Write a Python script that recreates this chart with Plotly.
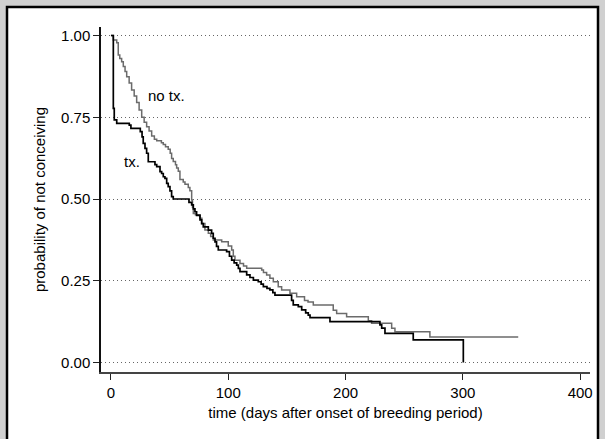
import plotly.graph_objects as go

# Kaplan-Meier step data (time in days, probability of not conceiving)
tx_time = [0, 2.0, 2.8, 4.9, 15.6, 17, 25, 26.5, 27.5, 29, 30.4, 31.8, 37.5, 39, 41.8, 43.2,
           44.6, 46, 47.5, 48.8, 50.3, 51.7, 53.1, 66.5, 68.8, 70.2, 71.6, 73, 75.9, 77.3,
           78.7, 83, 85.8, 87.2, 88.7, 90, 91.5, 98.6, 101, 102.9, 105, 107.2, 108.6, 110,
           115.7, 118.5, 121.4, 125.6, 128, 129.9, 133, 135.5, 138, 139.8, 154, 155.4,
           159.7, 162.6, 166, 168.2, 169.7, 186.7, 229.3, 230.8, 233.6, 257.7, 300.4]
tx_surv = [1.0, 0.777, 0.742, 0.731, 0.726, 0.716, 0.706, 0.69, 0.67, 0.655, 0.64, 0.614,
           0.605, 0.599, 0.584, 0.578, 0.568, 0.563, 0.548, 0.538, 0.525, 0.507, 0.500,
           0.49, 0.482, 0.47, 0.461, 0.45, 0.436, 0.425, 0.415, 0.405, 0.395, 0.38, 0.369,
           0.355, 0.344, 0.339, 0.325, 0.313, 0.305, 0.298, 0.288, 0.278, 0.268, 0.26,
           0.252, 0.247, 0.24, 0.232, 0.227, 0.222, 0.214, 0.206, 0.19, 0.176, 0.171,
           0.161, 0.152, 0.145, 0.137, 0.125, 0.115, 0.105, 0.089, 0.069, 0.0]

notx_time = [0, 2.0, 4.9, 6.2, 7.5, 9.1, 10.5, 12, 13.4, 15.5, 17.6, 19.8, 21.9, 24, 26.2,
             28.3, 30.4, 32.5, 34.7, 37, 39, 43, 44.6, 46.5, 48.8, 50.5, 51.7, 53.1, 55,
             56, 57.4, 58.8, 61.6, 63.1, 65.9, 67.3, 68.8, 69.5, 70.2, 72, 75.9, 77.5,
             80.1, 83, 85, 87.2, 94.4, 100, 102.9, 104.3, 105.7, 110, 113, 115.7, 128.5,
             130, 132.7, 135.5, 138.4, 142.6, 145.5, 152.6, 158.3, 165, 168, 172.5, 189.5,
             192.4, 200.9, 219.4, 222.2, 239.3, 242.1, 271.9, 347.2]
notx_surv = [1.0, 0.986, 0.978, 0.94, 0.93, 0.92, 0.905, 0.89, 0.874, 0.855, 0.833, 0.815,
             0.795, 0.772, 0.75, 0.735, 0.721, 0.708, 0.693, 0.683, 0.678, 0.672, 0.667,
             0.66, 0.652, 0.64, 0.624, 0.615, 0.605, 0.595, 0.585, 0.56, 0.552, 0.545,
             0.535, 0.525, 0.497, 0.475, 0.456, 0.452, 0.441, 0.425, 0.405, 0.395, 0.385,
             0.375, 0.369, 0.356, 0.344, 0.325, 0.313, 0.303, 0.295, 0.288, 0.283, 0.275,
             0.268, 0.258, 0.247, 0.232, 0.222, 0.212, 0.201, 0.19, 0.185, 0.176, 0.16,
             0.15, 0.14, 0.128, 0.12, 0.105, 0.094, 0.078, 0.078]

x_ticks = [0, 100, 200, 300, 400]
y_ticks = [0, 0.25, 0.5, 0.75, 1.0]
y_ticklabels = ["0.00", "0.25", "0.50", "0.75", "1.00"]

W, H = 605, 439
L, R, T, B = 101, 15, 27, 67
pw, ph = W - L - R, H - T - B

def px2paper_x(px):
    return (px - L) / pw

def px2paper_y(py):
    return (H - B - py) / ph

FONT = "Liberation Sans, Arial, sans-serif"

fig = go.Figure()
fig.add_trace(go.Scatter(x=notx_time, y=notx_surv, mode="lines", line_shape="hv",
                         line=dict(color="#6b6b6b", width=1.5), showlegend=False))
fig.add_trace(go.Scatter(x=tx_time, y=tx_surv, mode="lines", line_shape="hv",
                         line=dict(color="#000000", width=1.7), showlegend=False))

fig.add_annotation(x=29.8, y=0.818, text="no tx.", showarrow=False, xanchor="left",
                   yanchor="middle", font=dict(family=FONT, size=15, color="#000"))
fig.add_annotation(x=9.4, y=0.614, text="tx.", showarrow=False, xanchor="left",
                   yanchor="middle", font=dict(family=FONT, size=15, color="#000"))

# white panel with black border on gray background
fig.add_shape(type="rect", xref="paper", yref="paper", layer="below",
              x0=px2paper_x(7), x1=px2paper_x(598), y0=px2paper_y(460), y1=px2paper_y(7),
              fillcolor="white", line=dict(color="black", width=2.5))

fig.update_layout(
    width=W, height=H,
    margin=dict(l=L, r=R, t=T, b=B),
    paper_bgcolor="#d0d0d0",
    plot_bgcolor="white",
    font=dict(family=FONT, size=15, color="#000"),
    xaxis=dict(range=[-8.5, 408.4], tickvals=x_ticks, ticks="outside", ticklen=6,
               tickcolor="#222", showgrid=False, zeroline=False, showline=True,
               linecolor="#444", linewidth=1.5, tickfont=dict(size=15),
               title=dict(text="time (days after onset of breeding period)",
                          font=dict(size=15), standoff=8)),
    yaxis=dict(range=[-0.029, 1.026], tickvals=y_ticks, ticktext=y_ticklabels,
               ticks="outside", ticklen=6, tickcolor="#222", showgrid=True,
               gridcolor="#666666", griddash="1px,3px", gridwidth=1, zeroline=False,
               showline=True, linecolor="#111", linewidth=1.5, tickfont=dict(size=15),
               title=dict(text="probability of not conceiving", font=dict(size=15),
                          standoff=12)),
)

fig.write_html("out.html")
